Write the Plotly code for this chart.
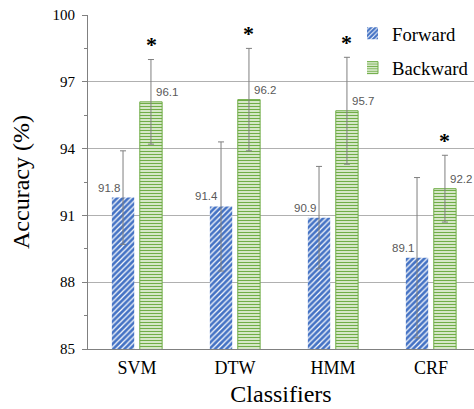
import plotly.graph_objects as go

categories = ["SVM", "DTW", "HMM", "CRF"]
forward = [91.8, 91.4, 90.9, 89.1]
backward = [96.1, 96.2, 95.7, 92.2]
forward_err = [2.1, 2.9, 2.3, 3.6]
backward_err = [1.9, 2.3, 2.4, 1.5]
significant = ["*", "*", "*", "*"]
y_ticks = [85, 88, 91, 94, 97, 100]

BLUE = "#4472C4"
GREEN = "#70AD47"
ERR = "#7F7F7F"
SERIF = "Liberation Serif"

fig = go.Figure()
fig.add_trace(go.Bar(
    name="Forward", x=categories, y=forward, legendgroup="f",
    marker=dict(color=BLUE, line=dict(width=0),
                pattern=dict(shape="/", bgcolor=BLUE, fgcolor="white",
                             size=4, solidity=0.3, fillmode="replace")),
    error_y=dict(type="data", array=forward_err, color=ERR, thickness=1, width=3),
))
fig.add_trace(go.Bar(
    name="Backward", x=categories, y=backward, legendgroup="b",
    marker=dict(color=GREEN, line=dict(width=1, color=GREEN),
                pattern=dict(shape="-", bgcolor="#F6FBF2", fgcolor=GREEN,
                             size=3, solidity=0.5, fillmode="replace")),
    error_y=dict(type="data", array=backward_err, color=ERR, thickness=1, width=3),
))

ann = []
for c, v in zip(categories, forward):
    ann.append(dict(x=c, y=v, xref="x", yref="y", text=f"{v:.1f}", showarrow=False,
                    xshift=-28, yshift=10, font=dict(family="Liberation Sans", size=11.5, color="#595959")))
for c, v in zip(categories, backward):
    ann.append(dict(x=c, y=v, xref="x", yref="y", text=f"{v:.1f}", showarrow=False,
                    xshift=30, yshift=10, font=dict(family="Liberation Sans", size=11.5, color="#595959")))
for c, v, e, s in zip(categories, backward, backward_err, significant):
    ann.append(dict(x=c, y=v + e, xref="x", yref="y", text=f"<b>{s}</b>", showarrow=False,
                    xshift=14, yshift=15, font=dict(family=SERIF, size=22, color="black")))

fig.update_layout(
    width=474, height=409,
    margin=dict(l=88, r=0, t=15, b=60),
    paper_bgcolor="white", plot_bgcolor="white",
    barmode="group", bargap=0.43, bargroupgap=0.2,
    showlegend=True,
    legend=dict(x=1.0, y=1.001, xanchor="right", yanchor="top", indentation=-15,
                bgcolor="rgba(0,0,0,0)", tracegroupgap=7,
                font=dict(family=SERIF, size=18.7, color="black")),
    annotations=ann,
    xaxis=dict(range=[-0.5, 3.439], showline=True, linecolor="#808080", linewidth=1,
               ticks="", tickfont=dict(family=SERIF, size=18, color="black"),
               ticklabelstandoff=2, automargin=False,
               title=dict(text="Classifiers", font=dict(family=SERIF, size=24, color="black"),
                          standoff=8)),
    yaxis=dict(range=[85, 100], tickvals=y_ticks, showgrid=True, gridcolor="#B0B0B0",
               gridwidth=1, showline=True, linecolor="#808080", linewidth=1,
               ticks="outside", ticklen=5, tickcolor="#808080",
               minor=dict(dtick=1.5, tick0=85, ticks="outside", ticklen=3,
                          tickcolor="#808080", showgrid=False),
               tickfont=dict(family=SERIF, size=15, color="black"),
               ticklabelstandoff=4, zeroline=False, automargin=False,
               title=dict(text="Accuracy (%)", font=dict(family=SERIF, size=24, color="black"),
                          standoff=16)),
)

fig.write_html("out.html", config={"displayModeBar": False},
               post_script="document.body.style.margin='0';document.body.style.padding='0';")
